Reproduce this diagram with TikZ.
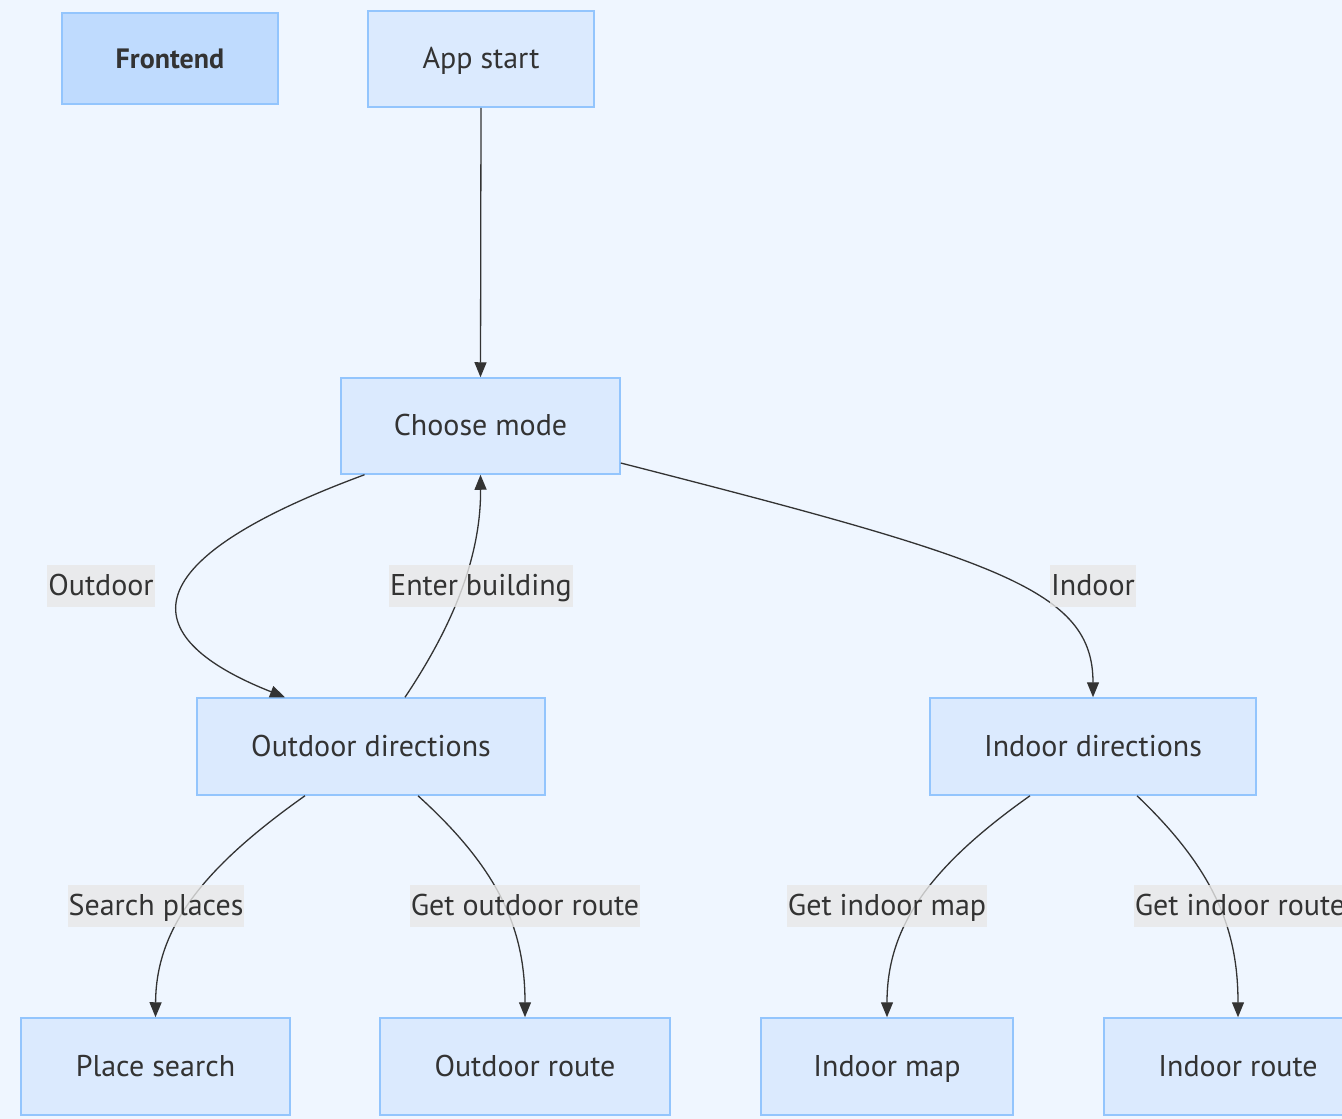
\documentclass[tikz,border=0pt]{standalone}
\usepackage{fontspec}
\setmainfont{PT Sans}
\usetikzlibrary{arrows.meta}
\definecolor{bgblue}{HTML}{EFF6FF}
\definecolor{boxfill}{HTML}{DBEAFE}
\definecolor{boxline}{HTML}{93C5FD}
\definecolor{headfill}{HTML}{BFDBFE}
\definecolor{labelfill}{HTML}{E8E8E8}
\definecolor{ink}{HTML}{333333}
\tikzset{
  stepbox/.style={draw=boxline, line width=1.5pt, fill=boxfill, inner sep=0pt,
    text=ink, text height=23pt, text depth=4pt, font=\fontsize{30}{34}\selectfont},
  headbox/.style={stepbox, fill=headfill, font=\fontsize{28}{34}\selectfont\bfseries},
  flow/.style={draw=ink, line width=1.3pt, -{Triangle[length=15pt, width=12pt]}},
  edgelabel/.style={fill=labelfill, fill opacity=0.8, text opacity=1, text=ink,
    inner xsep=1pt, inner ysep=0pt, minimum height=42pt, text height=23pt, text depth=4pt,
    font=\fontsize{30}{34}\selectfont}
}
\begin{document}
\begin{tikzpicture}[x=1pt, y=-1pt]
    \fill[bgblue] (0, 0) rectangle (1342, 1119);
    \useasboundingbox (0, 0) rectangle (1342, 1119);
    % boxes
    \node[headbox, minimum width=216pt, minimum height=91pt] (fe) at (170, 58.5) {Frontend};
    \node[stepbox, minimum width=226pt, minimum height=96pt] (as) at (481, 59) {App start};
    \node[stepbox, minimum width=279pt, minimum height=96pt] (cm) at (480.5, 426) {Choose mode};
    \node[stepbox, minimum width=348pt, minimum height=97pt] (od) at (371, 746.5) {Outdoor directions};
    \node[stepbox, minimum width=326pt, minimum height=97pt] (id) at (1093, 746.5) {Indoor directions};
    \node[stepbox, minimum width=269pt, minimum height=97pt] (ps) at (155.5, 1066.5) {Place search};
    \node[stepbox, minimum width=290pt, minimum height=97pt] (or) at (525, 1066.5) {Outdoor route};
    \node[stepbox, minimum width=252pt, minimum height=97pt] (im) at (887, 1066.5) {Indoor map};
    \node[stepbox, minimum width=268pt, minimum height=97pt] (ir) at (1238, 1066.5) {Indoor route};
    % connectors
    \draw[flow] (as.south) -- (cm.north);
    \draw[flow] ([xshift=-116pt]cm.south) .. controls (120, 565) and (140, 640) .. ([xshift=-86pt]od.north);
    \draw[flow] ([xshift=34pt]od.north) .. controls (450, 630) and (481, 560) .. (cm.south);
    \draw[flow] ([yshift=-37pt]cm.east) .. controls (1000, 560) and (1093, 590) .. (id.north);
    \draw[flow] ([xshift=-66pt]od.south) .. controls (200, 870) and (156, 930) .. (ps.north);
    \draw[flow] ([xshift=47pt]od.south) .. controls (500, 870) and (525, 930) .. (or.north);
    \draw[flow] ([xshift=-63pt]id.south) .. controls (925, 870) and (887, 930) .. (im.north);
    \draw[flow] ([xshift=44pt]id.south) .. controls (1215, 870) and (1238, 930) .. (ir.north);
    % labels
    \node[edgelabel] (lo) at (101, 586) {Outdoor};
    \node[edgelabel] (le) at (481, 586) {Enter building};
    \node[edgelabel] (li) at (1093, 586) {Indoor};
    \node[edgelabel] (ls) at (156, 906) {Search places};
    \node[edgelabel] (lr) at (525, 906) {Get outdoor route};
    \node[edgelabel] (lm) at (887, 906) {Get indoor map};
    \node[edgelabel] (ln) at (1240, 906) {Get indoor route};
\end{tikzpicture}
\end{document}
